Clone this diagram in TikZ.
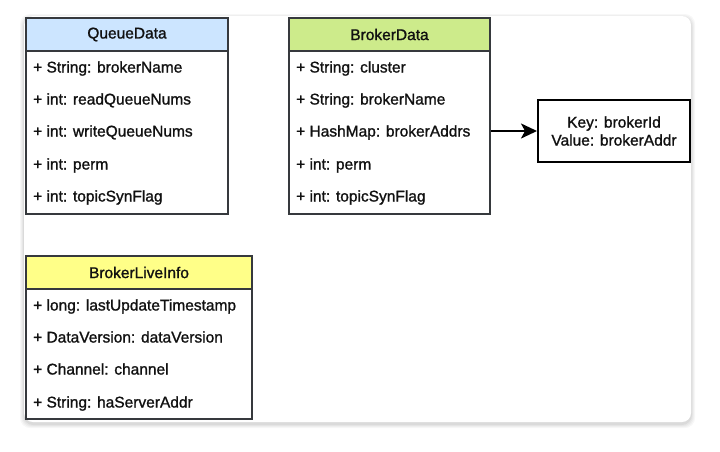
\documentclass[tikz,border=0pt]{standalone}
\usepackage{fontspec}
\setmainfont{Liberation Sans}[FakeBold=1.2]
\usetikzlibrary{arrows.meta}
\definecolor{bordc}{HTML}{36393D}
\definecolor{blueh}{HTML}{CCE5FF}
\definecolor{greenh}{HTML}{CDEB8B}
\definecolor{yellowh}{HTML}{FFFF88}
\definecolor{txt}{HTML}{111111}
\tikzset{
  hdr/.style={draw=bordc, line width=2pt, anchor=north west, inner sep=0pt,
    text=txt, font=\fontsize{15.5}{18}\selectfont},
  bodybox/.style={draw=bordc, line width=2pt, fill=white, anchor=north west, inner sep=0pt},
  rowtxt/.style={anchor=base west, inner sep=0pt, text=txt, font=\fontsize{15.5}{18}\selectfont},
  keybox/.style={draw=black, line width=2pt, fill=white, inner sep=0pt, align=center,
    text=txt, font=\fontsize{15.5}{18}\selectfont},
  conn/.style={draw=black, line width=2pt, -{Stealth[length=16pt,width=15pt,inset=4pt]}}
}
\begin{document}
\begin{tikzpicture}[x=1pt,y=-1pt]
\useasboundingbox (0,0) rectangle (720,451);
% card with faint shadow
\foreach \o/\op in {4/0.03,3/0.03,2/0.04,1/0.05}{
  \fill[black,opacity=\op,rounded corners=10pt] (24-\o,16-\o+2) rectangle (691+\o,422+\o+2);
}
\fill[white,rounded corners=9pt] (24,16) rectangle (691,422);

% QueueData
\node[bodybox, minimum width=202pt, minimum height=163pt] (qbody) at (25,50) {};
\node[hdr, fill=blueh, minimum width=202pt, minimum height=33pt] (qhead) at (25,17) {QueueData};
\node[rowtxt] (q1) at (33,72.5) {+ String: brokerName};
\node[rowtxt] (q2) at (33,104.5) {+ int: readQueueNums};
\node[rowtxt] (q3) at (33,136.5) {+ int: writeQueueNums};
\node[rowtxt] (q4) at (33,169.5) {+ int: perm};
\node[rowtxt] (q5) at (33,201.5) {+ int: topicSynFlag};

% BrokerData
\node[bodybox, minimum width=201pt, minimum height=163pt] (bbody) at (288,50) {};
\node[hdr, fill=greenh, minimum width=201pt, minimum height=33pt] (bhead) at (288,17) {BrokerData};
\node[rowtxt] (b1) at (296,72.5) {+ String: cluster};
\node[rowtxt] (b2) at (296,104.5) {+ String: brokerName};
\node[rowtxt] (b3) at (296,136.5) {+ HashMap: brokerAddrs};
\node[rowtxt] (b4) at (296,169.5) {+ int: perm};
\node[rowtxt] (b5) at (296,201.5) {+ int: topicSynFlag};
\coordinate (b3mid) at (296,131);

% Key box
\node[keybox, minimum width=152pt, minimum height=62pt] (key) at (614,131) {Key: brokerId\\Value: brokerAddr};

% BrokerLiveInfo
\node[bodybox, minimum width=226pt, minimum height=130pt] (lbody) at (25,288) {};
\node[hdr, fill=yellowh, minimum width=226pt, minimum height=33pt] (lhead) at (25,255) {BrokerLiveInfo};
\node[rowtxt] (l1) at (33,310.5) {+ long: lastUpdateTimestamp};
\node[rowtxt] (l2) at (33,342.5) {+ DataVersion: dataVersion};
\node[rowtxt] (l3) at (33,374.5) {+ Channel: channel};
\node[rowtxt] (l4) at (33,407.5) {+ String: haServerAddr};

% connector
\draw[conn] (bbody.east |- b3mid) -- (key.west);
\end{tikzpicture}
\end{document}
